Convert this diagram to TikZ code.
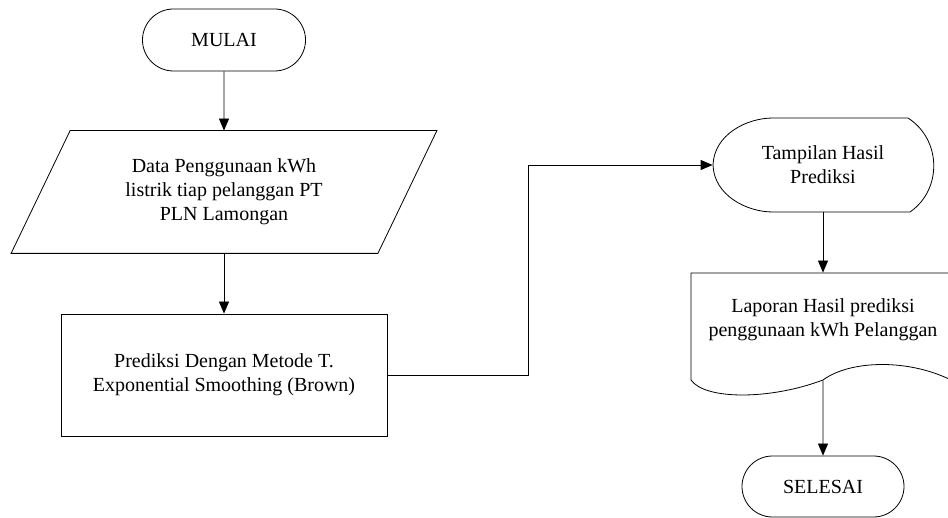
\documentclass[tikz,border=0pt]{standalone}
\usepackage{fontspec}
\setmainfont{Liberation Serif}
\usetikzlibrary{arrows.meta,shapes.misc}
\begin{document}
\begin{tikzpicture}[x=1pt,y=-1pt,
  line width=0.8pt,
  every node/.style={font=\fontsize{20}{24}\selectfont, align=center, inner sep=0pt},
  terminal/.style={draw, rounded rectangle, minimum width=163pt, minimum height=62pt},
  process/.style={draw, rectangle, minimum width=326pt, minimum height=122pt},
  flow/.style={-{Triangle[length=12pt,width=10pt]}}]
\useasboundingbox (0,0) rectangle (948,518);

% start
\node[terminal] (mulai) at (224,40) {MULAI};

% input data (parallelogram)
\node[minimum width=425pt, minimum height=122pt] (data) at (224,192)
  {Data Penggunaan kWh\\listrik tiap pelanggan PT\\PLN Lamongan};
\draw ([xshift=59pt]data.north west) -- (data.north east)
  -- ([xshift=-59pt]data.south east) -- (data.south west) -- cycle;

% process
\node[process] (pred) at (224,375)
  {Prediksi Dengan Metode T.\\Exponential Smoothing (Brown)};

% display
\node[minimum width=220pt, minimum height=94pt] (disp) at (823,165)
  {Tampilan Hasil\\Prediksi};
\draw (713,165) .. controls (714,135) and (746,118) .. (773,118) -- (908,118)
  .. controls (942,140) and (942,190) .. (910,212) -- (773,212)
  .. controls (746,212) and (714,195) .. (713,165) -- cycle;

% document
\node[minimum width=264pt, minimum height=107pt] (doc) at (823,326.5) {};
\draw (691,273) -- (955,273) -- (955,382)
  .. controls (910,358) and (850,360) .. (823,380)
  .. controls (770,400) and (705,400) .. (691,380) -- cycle;
\node (doctext) at (823,320) {Laporan Hasil prediksi\\penggunaan kWh Pelanggan};

% end
\node[terminal, minimum width=162pt, minimum height=61pt] (selesai) at (823,486.5) {SELESAI};

% connectors
\coordinate (bend) at (528,375);
\draw[flow] (mulai) -- (data);
\draw[flow] (data) -- (pred);
\draw[flow] (pred.east) -- (bend) |- (disp.west);
\draw[flow] (disp) -- (doc);
\draw[flow] (doc.south) -- (selesai);
\end{tikzpicture}
\end{document}
